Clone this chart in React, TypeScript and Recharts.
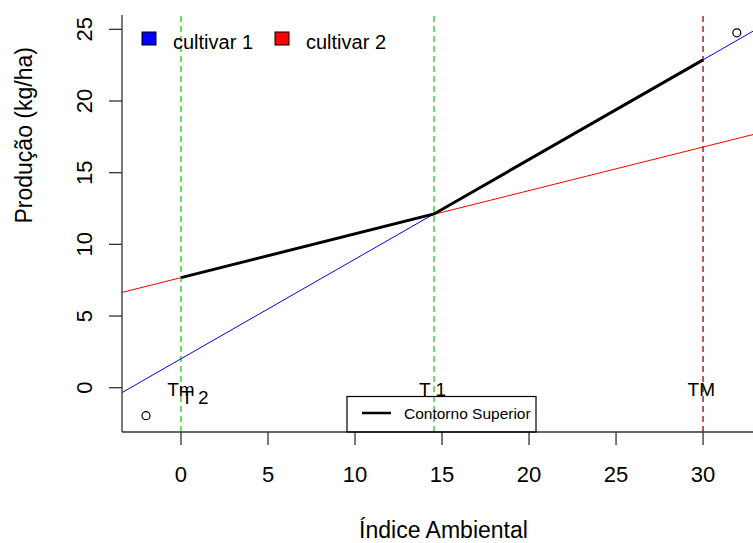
import React from 'react';
import { ComposedChart, Line, Scatter, XAxis, YAxis, ReferenceLine, Legend, Label } from 'recharts';

const FONT = "'Liberation Sans', Arial, sans-serif";

const xTicks = [0, 5, 10, 15, 20, 25, 30];
const yTicks = [0, 5, 10, 15, 20, 25];

const cultivar1 = [
  { x: -3.39, y: -0.34 },
  { x: 32.87, y: 24.87 },
];
const cultivar2 = [
  { x: -3.39, y: 6.65 },
  { x: 32.87, y: 17.66 },
];
const contorno = [
  { x: 0, y: 7.68 },
  { x: 14.54, y: 12.12 },
  { x: 30, y: 22.87 },
];
const pontos = [
  { x: -2.01, y: -1.95 },
  { x: 31.94, y: 24.76 },
];
const rotulos = [
  { x: 0, y: -0.1, label: 'Tm' },
  { x: 0.8, y: -0.7, label: 'T 2' },
  { x: 14.45, y: -0.1, label: 'T 1' },
  { x: 29.9, y: -0.1, label: 'TM' },
];
const linhasT = [0, 14.54];
const linhaTM = 30;

const YTick = (props: any) => {
  const { x, y, payload } = props;
  const bx = x - 17;
  return (
    <text x={bx} y={y} transform={`rotate(-90, ${bx}, ${y})`} textAnchor="middle" fontSize={22} fontFamily={FONT} fill="#000">
      {payload.value}
    </text>
  );
};

const LegendBoxes = () => (
  <svg width={753} height={543} style={{ position: 'absolute', left: 0, top: 0 }}>
    <rect x={142} y={32} width={14} height={13} fill="#0000ff" stroke="#000" strokeWidth={1} />
    <text x={173} y={41.5} dominantBaseline="central" fontSize={20} fontFamily={FONT} fill="#000">cultivar 1</text>
    <rect x={275} y={32} width={14} height={13} fill="#ff0000" stroke="#000" strokeWidth={1} />
    <text x={306} y={41.5} dominantBaseline="central" fontSize={20} fontFamily={FONT} fill="#000">cultivar 2</text>
    <rect x={347} y={396.5} width={189} height={35.5} fill="none" stroke="#000" strokeWidth={1.2} />
    <line x1={362} y1={413} x2={391} y2={413} stroke="#000" strokeWidth={2.5} />
    <text x={404} y={413.5} dominantBaseline="central" fontSize={15.5} fontFamily={FONT} fill="#000">Contorno Superior</text>
  </svg>
);

export default function App() {
  return (
    <div style={{ position: 'absolute', left: 0, top: 0, width: 753, height: 543, background: '#fff' }}>
      <ComposedChart width={753} height={543} margin={{ top: 15, right: 0, bottom: 0, left: 0 }}>
        <XAxis
          type="number"
          dataKey="x"
          domain={[-3.39, 32.87]}
          allowDataOverflow
          ticks={xTicks}
          tickSize={13}
          tickMargin={21}
          height={111}
          stroke="#333"
          strokeWidth={1.3}
          tick={{ fontSize: 22, fontFamily: FONT, fill: '#000' }}
        >
          <Label value="Índice Ambiental" position="insideBottom" offset={5} dx={6} fontSize={23} fontFamily={FONT} fill="#000" />
        </XAxis>
        <YAxis
          type="number"
          dataKey="y"
          domain={[-3.09, 26.0]}
          allowDataOverflow
          ticks={yTicks}
          tickSize={13}
          tickMargin={0}
          width={122}
          stroke="#333"
          strokeWidth={1.3}
          tick={<YTick />}
        >
          <Label value="Produção (kg/ha)" angle={-90} position="insideLeft" offset={24} fontSize={23} fontFamily={FONT} fill="#000" />
        </YAxis>
        <Legend layout="horizontal" verticalAlign="middle" align="center" content={() => <LegendBoxes />} wrapperStyle={{ position: 'absolute', left: 0, top: 0, width: 753, height: 543, pointerEvents: 'none' }} />
        {linhasT.map((v) => (
          <ReferenceLine key={v} x={v} stroke="#22cc22" strokeDasharray="6 4" strokeWidth={1.3} />
        ))}
        <ReferenceLine x={linhaTM} stroke="#b22222" strokeDasharray="6 4" strokeWidth={1.5} />
        <Line data={cultivar1} dataKey="y" stroke="#0000ff" strokeWidth={1} dot={false} isAnimationActive={false} />
        <Line data={cultivar2} dataKey="y" stroke="#ff0000" strokeWidth={1} dot={false} isAnimationActive={false} />
        <Line data={contorno} dataKey="y" stroke="#000" strokeWidth={3} dot={false} isAnimationActive={false} />
        <Scatter data={pontos} isAnimationActive={false} shape={(p: any) => <circle cx={p.cx} cy={p.cy} r={4} fill="none" stroke="#000" strokeWidth={1.2} />} />
        <Scatter
          data={rotulos}
          isAnimationActive={false}
          shape={(p: any) => (
            <text x={p.cx} y={p.cy} textAnchor="middle" dominantBaseline="central" fontSize={19} fontFamily={FONT} fill="#000">
              {p.payload.label}
            </text>
          )}
        />
      </ComposedChart>
    </div>
  );
}
